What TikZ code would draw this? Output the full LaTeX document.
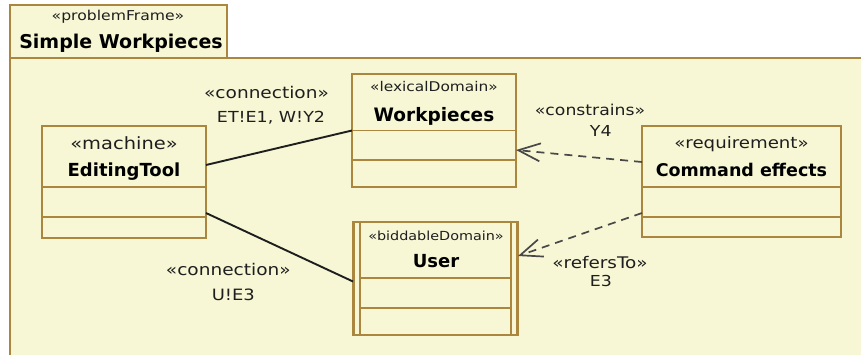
\documentclass[tikz,border=0pt]{standalone}
\usepackage{fontspec}
\setmainfont{DejaVu Sans}
\newfontfamily\stfont[FakeStretch=1.15]{DejaVu Sans}
\usetikzlibrary{arrows.meta,calc}
\definecolor{paper}{RGB}{247,247,214}
\definecolor{tan}{RGB}{170,134,62}
\definecolor{ink}{RGB}{30,30,30}
\definecolor{depgray}{RGB}{72,72,72}

\begin{document}
\begin{tikzpicture}[x=1pt,y=-1pt,
  box/.style={draw=tan,line width=1.8pt,fill=paper,anchor=north west,inner sep=0pt,outer sep=0pt},
  stereo/.style={font={\stfont\fontsize{#1}{#1}\selectfont},text=ink,inner sep=0pt,anchor=base},
  cname/.style={font={\bfseries\fontsize{#1}{#1}\selectfont},text=black,inner sep=0pt,anchor=base},
  divider/.style={draw=tan,line width=1.8pt},
  link/.style={draw=ink,line width=1.9pt},
  dep/.style={draw=depgray,line width=1.7pt,dash pattern=on 8pt off 6pt,
    -{Straight Barb[length=22pt,width=18pt]}}]

\useasboundingbox (0,0) rectangle (861,354);
\fill[white] (0,0) rectangle (861,354);

% problem frame body and name tab
\begin{scope}
  \clip (0,0) rectangle (861,354);
  \node[box,line width=2.2pt,minimum width=880,minimum height=320] (frame) at (10,58) {};
\end{scope}
\fill[paper] (10,5) rectangle (227,58);
\node[box,fill=paper,minimum width=217,minimum height=53] (tab) at (10,5) {};
\node[stereo=13.6] (tabS) at (118,20) {«problemFrame»};
\node[cname=19] (tabN) at (121,48) {Simple Workpieces};

% lexical domain
\node[box,minimum width=164,minimum height=113] (wp) at (352,74) {};
\node[stereo=13.4] (wpS) at (434,91.5) {«lexicalDomain»};
\node[cname=18.5] (wpN) at (434,121) {Workpieces};
\draw[divider] ($(wp.north west)+(0,56.5)$) -- ($(wp.north east)+(0,56.5)$);
\draw[divider] ($(wp.north west)+(0,86)$) -- ($(wp.north east)+(0,86)$);

% machine
\node[box,minimum width=164,minimum height=112] (edit) at (42,126) {};
\node[stereo=16.9] (editS) at (124,149) {«machine»};
\node[cname=18] (editN) at (124,176.5) {EditingTool};
\draw[divider] ($(edit.north west)+(0,60.7)$) -- ($(edit.north east)+(0,60.7)$);
\draw[divider] ($(edit.north west)+(0,90.7)$) -- ($(edit.north east)+(0,90.7)$);

% requirement
\node[box,minimum width=199,minimum height=111] (cmd) at (642,126) {};
\node[stereo=15.8] (cmdS) at (741.5,148) {«requirement»};
\node[cname=17.5] (cmdN) at (741.5,176.5) {Command effects};
\draw[divider] ($(cmd.north west)+(0,60.7)$) -- ($(cmd.north east)+(0,60.7)$);
\draw[divider] ($(cmd.north west)+(0,91)$) -- ($(cmd.north east)+(0,91)$);

% biddable domain with doubled side bars
\node[box,minimum width=165,minimum height=113] (user) at (353,222) {};
\draw[tan,line width=2.4pt] ($(user.north west)+(1,0)$) -- ($(user.south west)+(1,0)$);
\draw[tan,line width=2.4pt] ($(user.north east)+(-1,0)$) -- ($(user.south east)+(-1,0)$);
\draw[tan,line width=2pt] ($(user.north west)+(7,0)$) -- ($(user.south west)+(7,0)$);
\draw[tan,line width=2pt] ($(user.north east)+(-7,0)$) -- ($(user.south east)+(-7,0)$);
\draw[divider] ($(user.north west)+(7,56)$) -- ($(user.north east)+(-7,56)$);
\draw[divider] ($(user.north west)+(7,86)$) -- ($(user.north east)+(-7,86)$);
\node[stereo=12.5] (userS) at (436,240) {«biddableDomain»};
\node[cname=18] (userN) at (436,267) {User};

% connections
\draw[link] ([yshift=17pt]edit.east) -- (wp.west);
\draw[link] ([yshift=-31pt]edit.east) -- ([yshift=-3pt]user.west);
\node[stereo=16.1] (c1S) at (266.5,98.5) {«connection»};
\node[stereo=15.2] (c1N) at (271,122.5) {ET!E1, W!Y2};
\node[stereo=16.1] (c2S) at (228.3,275) {«connection»};
\node[stereo=15.6] (c2N) at (233.3,300) {U!E3};

% requirement references
\draw[dep] ([yshift=19.5pt]cmd.west) -- ([yshift=-19.5pt]wp.east);
\draw[dep] ([yshift=-31.5pt]cmd.west) -- ([yshift=22.5pt]user.east);
\node[stereo=15] (r1S) at (590,115) {«constrains»};
\node[stereo=15.1] (r1N) at (600.8,136.5) {Y4};
\node[stereo=16] (r2S) at (600,268) {«refersTo»};
\node[stereo=15.1] (r2N) at (600.8,286.5) {E3};
\end{tikzpicture}
\end{document}
